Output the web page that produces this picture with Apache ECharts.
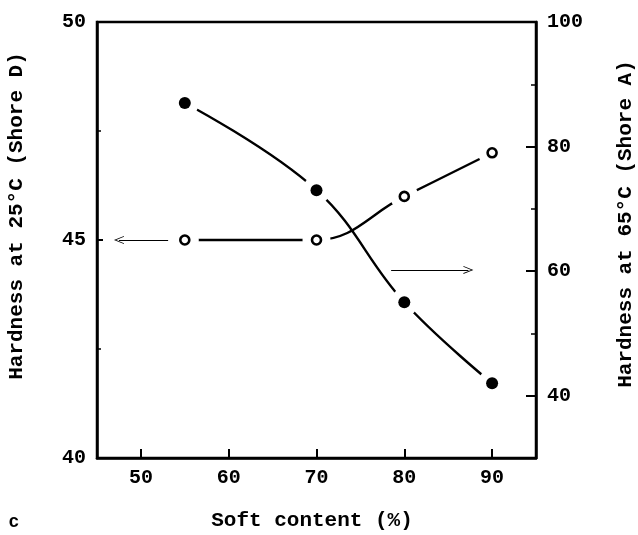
<!DOCTYPE html>
<html>
<head>
<meta charset="utf-8">
<script src="https://cdn.jsdelivr.net/npm/echarts@6/dist/echarts.min.js"></script>
<style>
  html, body { margin: 0; padding: 0; background: #fff; }
  #chart { width: 638px; height: 535px; }
</style>
</head>
<body>
<div id="chart"></div>
<script>
// Hardness versus soft-segment content
const softContent = [55, 70, 80, 90];            // soft content (%)
const hardness25D = [45, 45, 46, 47];            // Shore D at 25 °C (open circles, left axis)
const hardness65A = [87, 73, 55, 42];            // Shore A at 65 °C (filled circles, right axis)

const xTickValues = [50, 60, 70, 80, 90];
const leftTickValues = [40, 45, 50];
const rightTickValues = [40, 60, 80, 100];
const rightMinorValues = [50, 70, 90];

// arrows telling which axis each curve belongs to: [x from, x to, y]
const arrowToLeft = [53.1, 47.5, 45];
const arrowToRight = [78.5, 87.3, 60.2];

const FONT = 'Liberation Mono';
const pairs = (xs, ys) => xs.map((x, i) => [x, ys[i]]);
const openBarb = 'path://M5,0 L10,10 L9,10 L5,2.2 L1,10 L0,10 Z';

const chart = echarts.init(document.getElementById('chart'), null, { renderer: 'canvas' });

const tickLabel = { fontFamily: FONT, fontWeight: 'bold', fontSize: 20, color: '#000' };

function arrowLine(a) {
  return {
    silent: true,
    animation: false,
    symbol: ['none', openBarb],
    symbolSize: [8, 10],
    label: { show: false },
    lineStyle: { color: '#000', width: 1.2, type: 'solid' },
    emphasis: { disabled: true },
    data: [[{ coord: [a[0], a[2]] }, { coord: [a[1], a[2]] }]]
  };
}

function curve(name, yIndex, ys, arrow) {
  return {
    name: name, type: 'line', yAxisIndex: yIndex, z: 2,
    data: pairs(softContent, ys),
    smooth: 0.4, showSymbol: false,
    lineStyle: { color: '#000', width: 2.4 },
    emphasis: { disabled: true },
    markLine: arrowLine(arrow)
  };
}

// white disc under each marker so the curves stop short of the points
function halo(name, yIndex, ys) {
  return {
    name: name, type: 'scatter', yAxisIndex: yIndex, z: 5,
    data: pairs(softContent, ys),
    symbol: 'circle', symbolSize: 28,
    itemStyle: { color: '#fff', opacity: 1 },
    emphasis: { disabled: true }
  };
}

chart.setOption({
  animation: false,
  backgroundColor: '#fff',
  grid: {
    left: 97, right: 102, top: 22, bottom: 77,
    show: true, borderColor: '#000', borderWidth: 2.5, backgroundColor: 'transparent'
  },
  xAxis: {
    type: 'value', min: 45, max: 95,
    axisLine: { show: true, lineStyle: { color: '#000', width: 2.5 } },
    axisTick: { show: true, inside: true, length: 9, customValues: xTickValues,
      lineStyle: { color: '#000', width: 2 } },
    axisLabel: { ...tickLabel, margin: 10, customValues: xTickValues },
    splitLine: { show: false }
  },
  yAxis: [
    {
      type: 'value', min: 40, max: 50, interval: 5, position: 'left',
      axisLine: { show: true, lineStyle: { color: '#000', width: 2.5 } },
      axisTick: { show: true, inside: true, length: 6, lineStyle: { color: '#000', width: 2 } },
      minorTick: { show: true, splitNumber: 2, length: 4, lineStyle: { color: '#000', width: 1.5 } },
      axisLabel: { ...tickLabel, margin: 11, customValues: leftTickValues },
      splitLine: { show: false }
    },
    {
      type: 'value', min: 30, max: 100, position: 'right',
      axisLine: { show: true, lineStyle: { color: '#000', width: 2.5 } },
      axisTick: { show: true, inside: true, length: 10, customValues: rightTickValues,
        lineStyle: { color: '#000', width: 2 } },
      axisLabel: { ...tickLabel, margin: 11, customValues: rightTickValues },
      splitLine: { show: false }
    },
    {
      type: 'value', min: 30, max: 100, position: 'right',
      axisLine: { show: false },
      axisTick: { show: true, inside: true, length: 5, customValues: rightMinorValues,
        lineStyle: { color: '#000', width: 1.5 } },
      axisLabel: { show: false },
      splitLine: { show: false }
    }
  ],
  series: [
    curve('Shore D 25', 0, hardness25D, arrowToLeft),
    curve('Shore A 65', 1, hardness65A, arrowToRight),
    halo('Shore D 25 gap', 0, hardness25D),
    halo('Shore A 65 gap', 1, hardness65A),
    {
      name: 'Shore D 25 points', type: 'scatter', yAxisIndex: 0, z: 10,
      data: pairs(softContent, hardness25D),
      symbol: 'circle', symbolSize: 9,
      itemStyle: { color: '#fff', borderColor: '#000', borderWidth: 2.6, opacity: 1 },
      emphasis: { disabled: true }
    },
    {
      name: 'Shore A 65 points', type: 'scatter', yAxisIndex: 1, z: 10,
      data: pairs(softContent, hardness65A),
      symbol: 'circle', symbolSize: 12,
      itemStyle: { color: '#000', opacity: 1 },
      emphasis: { disabled: true }
    }
  ],
  graphic: [
    {
      type: 'text', x: 17, y: 216, rotation: Math.PI / 2,
      style: { text: 'Hardness at 25°C (Shore D)', font: 'bold 21px "' + FONT + '"',
        fill: '#000', align: 'center', verticalAlign: 'middle' }
    },
    {
      type: 'text', x: 626, y: 224, rotation: Math.PI / 2,
      style: { text: 'Hardness at 65°C (Shore A)', font: 'bold 21px "' + FONT + '"',
        fill: '#000', align: 'center', verticalAlign: 'middle' }
    },
    {
      type: 'text', x: 312, y: 521,
      style: { text: 'Soft content (%)', font: 'bold 21px "' + FONT + '"',
        fill: '#000', align: 'center', verticalAlign: 'middle' }
    },
    {
      type: 'text', x: 14, y: 522,
      style: { text: 'c', font: 'bold 18px "' + FONT + '"',
        fill: '#000', align: 'center', verticalAlign: 'middle' }
    }
  ]
});
</script>
</body>
</html>
